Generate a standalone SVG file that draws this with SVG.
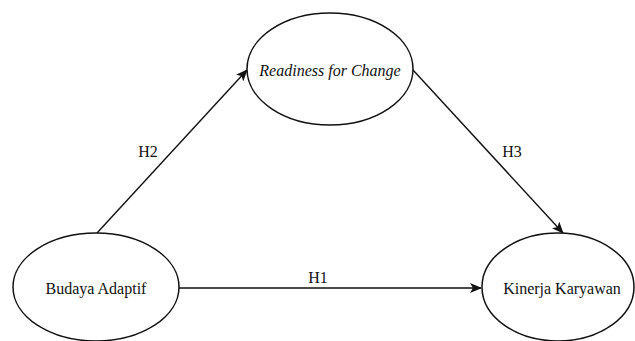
<svg xmlns="http://www.w3.org/2000/svg" width="635" height="341" viewBox="0 0 635 341">
<style>
.node ellipse{fill:#fff;stroke:#111;stroke-width:1.5}
text{font-family:"Liberation Serif","Times New Roman",serif;font-size:16px;fill:#111;text-anchor:middle}
.it{font-style:italic}
.edge{stroke:#111;stroke-width:1.4;fill:none;marker-end:url(#arr)}
</style>
<defs>
<marker id="arr" viewBox="0 0 12 10" refX="11" refY="5" markerWidth="12" markerHeight="10" markerUnits="userSpaceOnUse" orient="auto">
<path d="M0,0 L12,5 L0,10 L3,5 Z" fill="#111"/>
</marker>
</defs>
<g id="connectors">
<line class="edge" x1="97" y1="233" x2="247" y2="70"/>
<line class="edge" x1="413" y1="70" x2="563" y2="233"/>
<line class="edge" x1="179" y1="288" x2="481" y2="288"/>
<text x="148" y="157">H2</text>
<text x="512" y="157">H3</text>
<text x="318" y="283">H1</text>
</g>
<g id="readiness" class="node">
<ellipse cx="330" cy="69" rx="83" ry="56"/>
<text class="it" x="330" y="76">Readiness for Change</text>
</g>
<g id="budaya" class="node">
<ellipse cx="96" cy="287" rx="83" ry="54"/>
<text x="96" y="294">Budaya Adaptif</text>
</g>
<g id="kinerja" class="node">
<ellipse cx="558" cy="287" rx="76" ry="54"/>
<text x="562" y="294">Kinerja Karyawan</text>
</g>
</svg>
